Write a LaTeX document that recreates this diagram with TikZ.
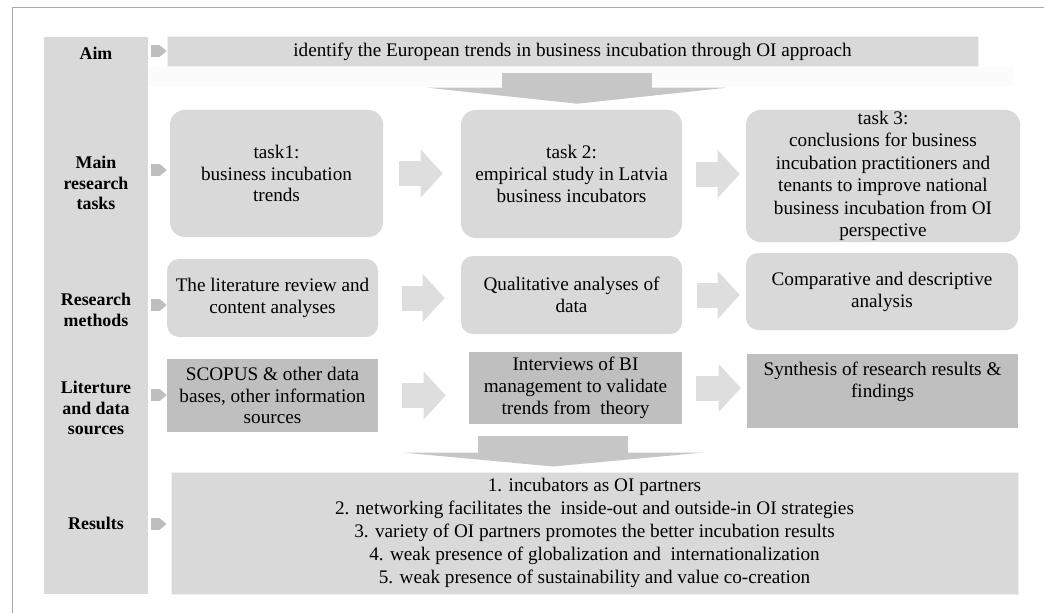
\documentclass[tikz,border=0pt]{standalone}
\usepackage{fontspec}
\setmainfont{Liberation Serif}
\usetikzlibrary{arrows.meta}
\definecolor{boxgray}{RGB}{217,217,217}
\definecolor{datgray}{RGB}{191,191,191}
\definecolor{flowgray}{RGB}{222,222,222}
\definecolor{downgray}{RGB}{198,198,198}
\definecolor{tabgray}{RGB}{190,190,190}
\definecolor{framegray}{RGB}{170,170,170}

\begin{document}
\begin{tikzpicture}[x=0.75pt, y=-0.75pt,
	box/.style={fill=boxgray, rounded corners=11pt, inner sep=0pt, align=center, font=\fontsize{14.4}{16.4}\selectfont},
	datbox/.style={fill=datgray, inner sep=0pt, align=center, font=\fontsize{14.4}{16.4}\selectfont},
	lbl/.style={align=center, font=\bfseries\fontsize{13.4}{15.4}\selectfont},
	flow/.style={draw=flowgray, line width=18.75pt, -{Triangle[width=36pt, length=16.5pt, line width=0pt]}},
	downflow/.style={draw=downgray, line width=113pt, -{Triangle[width=224pt, length=12pt, line width=0pt]}},
	tabflow/.style={draw=tabgray, line width=9pt, -{Triangle[width=9pt, length=5.25pt, line width=0pt]}, shorten <=2.25pt}]
	\useasboundingbox (0,0) rectangle (1044,613);

	% frame and background band
	\draw[framegray, line width=0.75pt] (12,613) -- (12,8) -- (1044,8);
	\fill[black!1.5] (44,67) rectangle (1013,86);

	% left column with the row names
	\node[fill=boxgray, inner sep=0pt, minimum width=78pt, minimum height=417.75pt] (col) at (96,315.5) {};
	\node[lbl] (lAim) at (96,53) {Aim};
	\node[lbl] (lTask) at (96,183) {Main\\research\\tasks};
	\node[lbl] (lMeth) at (96,310) {Research\\methods};
	\node[lbl] (lData) at (96,408) {Literture\\and data\\sources};
	\node[lbl] (lRes) at (96,523) {Results};

	\coordinate (tabA) at (148,51);
	\coordinate (tabB) at (148,170);
	\coordinate (tabC) at (148,305);
	\coordinate (tabD) at (148,395);
	\coordinate (tabE) at (148,524);

	% aim
	\node[fill=boxgray, draw=black!6, line width=0.75pt, inner sep=0pt, minimum width=608.25pt, minimum height=22.5pt, font=\fontsize{14.4}{16.4}\selectfont] (aim) at (572.5,52) {identify the European trends in business incubation through OI approach};

	% tasks
	\node[box, minimum width=159.75pt, minimum height=95.25pt] (t1) at (276.5,173.5) {task1:\\business incubation\\trends};
	\node[box, minimum width=165.75pt, minimum height=96pt] (t2) at (571.5,174) {task 2:\\empirical study in Latvia\\business incubators};
	\node[box, minimum width=205.5pt, minimum height=99pt, font=\fontsize{14.4}{16.9}\selectfont] (t3) at (883,176) {task 3:\\conclusions for business\\incubation practitioners and\\tenants to improve national\\business incubation from OI\\perspective};

	% methods
	\node[box, rounded corners=9pt, minimum width=158.25pt, minimum height=58.5pt] (m1) at (272.5,298) {The literature review and\\content analyses};
	\node[box, rounded corners=9pt, minimum width=165.75pt, minimum height=58.5pt] (m2) at (571.5,295) {Qualitative analyses of\\data};
	\node[box, rounded corners=9pt, minimum width=204pt, minimum height=57.75pt] (m3) at (882,291.5) {Comparative and descriptive\\analysis};

	% data sources
	\node[datbox, minimum width=158.25pt, minimum height=54.75pt] (d1) at (272.5,395.5) {SCOPUS \& other data\\bases, other information\\sources};
	\node[datbox, minimum width=159.75pt, minimum height=54pt] (d2) at (575.5,388) {Interviews of BI\\management to validate\\trends from\ \ theory};
	\node[datbox, minimum width=203.25pt, minimum height=55.5pt] (d3) at (882.5,391) {Synthesis of research results \&\\findings\\\mbox{}};

	% results
	\node[fill=boxgray, draw=black!6, line width=0.75pt, inner sep=0pt, minimum width=635.25pt, minimum height=91.5pt, align=center, font=\fontsize{14.4}{17.2}\selectfont] (res) at (594.5,533) {1. incubators as OI partners\\2. networking facilitates the\ \ inside-out and outside-in OI strategies\\3. variety of OI partners promotes the better incubation results\\4. weak presence of globalization and\ \ internationalization\\5. weak presence of sustainability and value co-creation};

	% Draw the arrows between the boxes
	\draw[tabflow] (tabA) -- (tabA -| aim.west);
	\draw[tabflow, shorten >=2.25pt] (tabB) -- (tabB -| t1.west);
	\draw[tabflow] (tabC) -- (tabC -| m1.west);
	\draw[tabflow] (tabD) -- (tabD -| d1.west);
	\draw[tabflow, shorten >=3pt] (tabE) -- (tabE -| res.west);

	\draw[flow, shorten <=12pt, shorten >=13.5pt] (t1.east) -- (t1.east -| t2.west);
	\draw[flow, shorten <=10.5pt, shorten >=4.5pt] (t2.east) -- (t2.east -| t3.west);
	\draw[flow, shorten <=18pt, shorten >=12pt] (m1.east) -- (m1.east -| m2.west);
	\draw[flow, shorten <=11.25pt, shorten >=4.5pt] (m2.east) -- (m2.east -| m3.west);
	\draw[flow, shorten <=18pt, shorten >=17.25pt] (d1.east) -- (d1.east -| d2.west);
	\draw[flow, shorten <=10.5pt, shorten >=4.5pt] (d2.east) -- (d2.east -| d3.west);

	\draw[downflow, shorten <=4.5pt, shorten >=4.5pt] ([xshift=3.4pt]aim.south) -- ([xshift=3.4pt]aim.south |- t2.north);
	\draw[downflow, line width=112.5pt, -{Triangle[width=226pt, length=10.5pt, line width=0pt]}, shorten <=9pt, shorten >=3.75pt] ([xshift=-16.9pt]d2.south) -- ([xshift=-16.9pt]d2.south |- res.north);
\end{tikzpicture}
\end{document}
